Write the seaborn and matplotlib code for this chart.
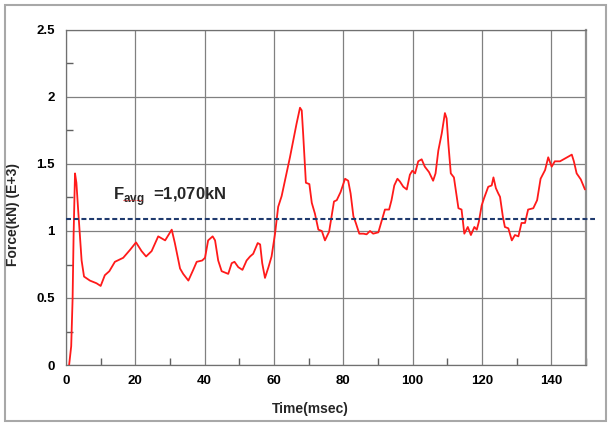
import matplotlib
matplotlib.use("Agg")
import matplotlib.pyplot as plt
from matplotlib.lines import Line2D
from matplotlib.patches import Rectangle
from matplotlib.ticker import MultipleLocator
import seaborn as sns
import pandas as pd

# ---- data ----
time_ms = [0.9, 1.5, 1.9, 2.2, 2.6, 3.0, 3.5, 4.5, 5.2, 6.9, 8.8, 10.0, 11.2, 12.5,
           14.1, 16.5, 18.5, 20.2, 21.8, 23.1, 24.7, 26.6, 27.6, 28.6, 30.5, 31.4,
           32.9, 33.8, 35.3, 36.7, 37.7, 39.3, 40.1, 41.0, 42.3, 43.0, 43.9, 44.9,
           46.8, 47.8, 48.6, 49.7, 50.9, 52.1, 53.1, 54.0, 55.3, 56.0, 56.6, 57.4,
           58.4, 59.3, 60.3, 61.2, 62.2, 63.2, 64.6, 65.6, 66.5, 67.5, 68.0, 68.4,
           69.2, 70.2, 70.9, 71.8, 72.8, 73.8, 74.7, 75.9, 76.6, 77.3, 78.1, 79.2,
           80.5, 81.4, 82.1, 82.9, 83.6, 84.6, 85.8, 86.7, 87.7, 88.6, 90.1, 91.1,
           92.0, 93.2, 93.9, 94.7, 95.6, 96.3, 97.3, 98.3, 99.2, 99.9, 100.7, 101.6,
           102.6, 103.5, 104.7, 105.9, 106.6, 107.4, 108.4, 109.3, 109.8, 110.3,
           111.0, 111.9, 112.7, 113.2, 114.1, 114.9, 115.9, 116.8, 117.8, 118.5,
           119.1, 119.9, 120.6, 121.8, 122.8, 123.3, 124.0, 124.7, 125.2, 126.0,
           126.6, 127.6, 128.6, 129.5, 130.5, 131.4, 132.4, 133.3, 134.8, 135.9,
           136.9, 138.2, 139.1, 140.1, 141.0, 142.5, 143.9, 144.9, 145.9, 146.5,
           147.3, 148.5, 149.7]
force_e3kn = [0.00, 0.14, 0.49, 0.98, 1.43, 1.36, 1.16, 0.78, 0.66, 0.63, 0.61, 0.59,
              0.67, 0.70, 0.77, 0.80, 0.86, 0.915, 0.85, 0.81, 0.85, 0.96, 0.945,
              0.93, 1.01, 0.91, 0.72, 0.68, 0.63, 0.71, 0.77, 0.78, 0.80, 0.93, 0.96,
              0.93, 0.78, 0.70, 0.68, 0.76, 0.77, 0.73, 0.71, 0.78, 0.81, 0.83, 0.91,
              0.90, 0.76, 0.65, 0.73, 0.81, 0.98, 1.18, 1.26, 1.38, 1.55, 1.68, 1.80,
              1.92, 1.90, 1.73, 1.36, 1.35, 1.21, 1.13, 1.01, 1.00, 0.93, 0.995, 1.11,
              1.22, 1.23, 1.29, 1.39, 1.375, 1.28, 1.11, 1.06, 0.98, 0.98, 0.975, 1.00,
              0.98, 0.99, 1.08, 1.16, 1.16, 1.23, 1.34, 1.39, 1.37, 1.33, 1.31, 1.42,
              1.45, 1.43, 1.52, 1.535, 1.48, 1.44, 1.375, 1.43, 1.60, 1.73, 1.88, 1.84,
              1.65, 1.43, 1.40, 1.26, 1.17, 1.16, 0.98, 1.03, 0.97, 1.03, 1.01, 1.07,
              1.19, 1.245, 1.33, 1.34, 1.40, 1.32, 1.28, 1.255, 1.11, 1.03, 1.02, 0.93,
              0.97, 0.96, 1.06, 1.06, 1.16, 1.17, 1.23, 1.39, 1.455, 1.55, 1.48, 1.52,
              1.52, 1.54, 1.555, 1.57, 1.52, 1.43, 1.385, 1.31]
f_avg = 1.087
avg_label = r"$\mathbf{F}_{\mathbf{avg}}$  =1,070kN"
x_label = "Time(msec)"
y_label = "Force(kN) (E+3)"

df = pd.DataFrame({"t": time_ms, "f": force_e3kn})

sns.set_theme(style="white")
plt.rcParams["font.family"] = ["Liberation Sans", "DejaVu Sans"]
plt.rcParams["mathtext.fontset"] = "custom"
plt.rcParams["mathtext.rm"] = "Liberation Sans"
plt.rcParams["mathtext.bf"] = "Liberation Sans:bold"

W, H = 612, 424
fig = plt.figure(figsize=(W / 100, H / 100), dpi=100)
fig.patch.set_facecolor("white")
L, R, T, B = 66, 586, 30, 365
ax = fig.add_axes([L / W, 1 - B / H, (R - L) / W, (B - T) / H])

sns.lineplot(data=df, x="t", y="f", ax=ax, color="#ff1a1a", lw=1.3,
             estimator=None, sort=False, zorder=4)

ax.set_xlim(0, 150)
ax.set_ylim(0, 2.5)
ax.xaxis.set_major_locator(MultipleLocator(20))
ax.xaxis.set_minor_locator(MultipleLocator(10))
ax.yaxis.set_major_locator(MultipleLocator(0.5))
ax.yaxis.set_minor_locator(MultipleLocator(0.25))
ax.set_yticks([0, 0.5, 1, 1.5, 2, 2.5])
ax.set_yticklabels(["0", "0.5", "1", "1.5", "2", "2.5"])

ax.grid(True, which="major", color="#808080", lw=0.9)
for s in ax.spines.values():
    s.set_color("#707070")
    s.set_linewidth(0.9)
ax.spines["right"].set_color("#909090")
ax.spines["right"].set_linewidth(1.6)

ax.tick_params(axis="both", which="major", labelsize=9.5, colors="#606060",
               labelcolor="black", length=4, width=0.9)
ax.tick_params(axis="y", which="major", direction="out", pad=4)
ax.tick_params(axis="x", which="major", direction="out", length=3, pad=4)
ax.tick_params(axis="y", which="minor", direction="in", length=5,
               colors="#606060", left=True, right=False)
ax.tick_params(axis="x", which="minor", direction="in", length=5,
               colors="#606060", bottom=True)
for lab in ax.get_xticklabels() + ax.get_yticklabels():
    lab.set_fontweight("bold")

ax.set_xlabel(x_label, fontsize=10, fontweight="bold")
ax.set_ylabel(y_label, fontsize=10, fontweight="bold")
ax.xaxis.set_label_coords(0.47, -0.11)
ax.yaxis.set_label_coords(-0.088, 0.45)

# average line
ax.plot([0, 152.6], [f_avg, f_avg], color="#1f3a6e", lw=1.5,
        dashes=(2.4, 1.3), clip_on=False, zorder=5)
ax.text(13.6, 1.23, avg_label, fontsize=12, fontweight="bold",
        ha="left", va="baseline", zorder=6)
fig.add_artist(Line2D([123 / W, 142 / W], [1 - 200 / H, 1 - 200 / H],
                      color="#e03030", lw=0.8, ls=(0, (1, 1))))

# outer frame
fig.add_artist(Rectangle((5 / W, 3 / H), 601 / W, 416 / H, fill=False,
                         ec="#a8a8a8", lw=1.5, transform=fig.transFigure))

fig.savefig("out.png", dpi=100)
